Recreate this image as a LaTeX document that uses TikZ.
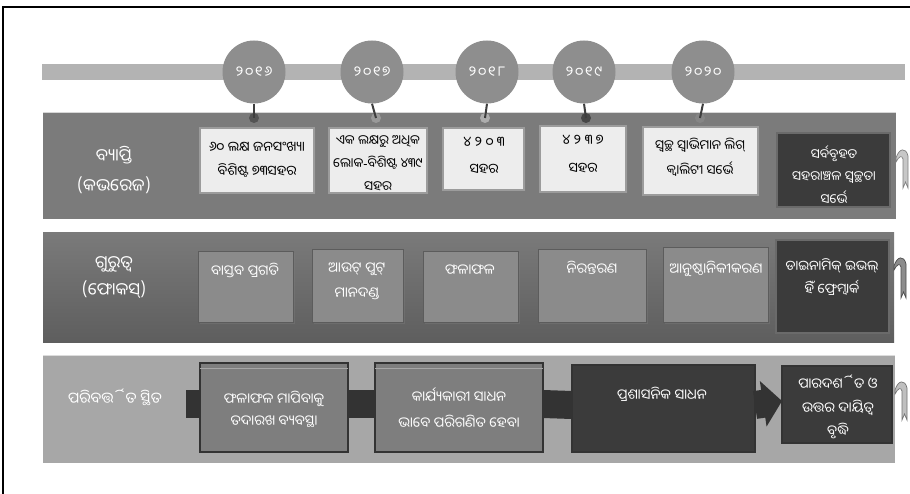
\documentclass[tikz,border=0pt]{standalone}
\usepackage{fontspec}
\newfontfamily\odia[Script=Oriya]{Noto Sans Oriya UI}
\newfontfamily\lat{Noto Sans}
\usetikzlibrary{arrows.meta,shadows}
\definecolor{barc}{HTML}{B3B3B3}
\definecolor{yearg}{HTML}{8E8E8E}
\definecolor{stemc}{HTML}{3E3E3E}
\definecolor{bandA}{HTML}{7B7B7B}
\definecolor{bandBt}{HTML}{7A7A7A}
\definecolor{bandBb}{HTML}{5E5E5E}
\definecolor{bandC}{HTML}{A7A7A7}
\definecolor{lightf}{HTML}{EDEDED}
\definecolor{lightd}{HTML}{9C9C9C}
\definecolor{darkf}{HTML}{3B3B3B}
\definecolor{darkd}{HTML}{6A6A6A}
\definecolor{midf}{HTML}{8B8B8B}
\definecolor{midd}{HTML}{5C5C5C}
\definecolor{rowthreef}{HTML}{7E7E7E}
\definecolor{connc}{HTML}{333333}
\tikzset{
  yearc/.style={circle, fill=yearg, minimum size=63pt, inner sep=0pt, text=white,
    font=\odia\fontsize{14}{16}\selectfont\addfontfeature{LetterSpace=12}},
  stem/.style={draw=stemc, line width=2pt},
  dotn/.style={circle, minimum size=10pt, inner sep=0pt},
  shape0/.style={rectangle, inner sep=0pt, outer sep=0pt, anchor=north west},
  bandone/.style={shape0, fill=bandA},
  bandtwo/.style={shape0, top color=bandBt, bottom color=bandBb},
  bandthree/.style={shape0, fill=bandC},
  lbox/.style={shape0, fill=lightf, draw=lightd, line width=1.2pt,
    drop shadow={shadow xshift=1.5pt, shadow yshift=-1.5pt, opacity=.45}},
  dbox/.style={shape0, fill=darkf, draw=darkd, line width=1.5pt},
  mbox/.style={shape0, fill=midf, draw=midd, line width=1pt,
    drop shadow={shadow xshift=1.5pt, shadow yshift=-1.5pt, opacity=.35}},
  tbox/.style={shape0, fill=rowthreef, draw=connc, line width=2.2pt},
  tdbox/.style={shape0, fill=darkf, draw=connc, line width=1.2pt},
  lab/.style={align=center, text=white, font=\odia\fontsize{17}{30}\selectfont},
  labb/.style={align=center, text=white, font=\odia\fontsize{17}{27}\selectfont},
  btxt/.style={align=center, text=black, font=\odia\fontsize{13.5}{24}\selectfont},
  wtxt/.style={align=center, text=white, font=\odia\fontsize{14}{24}\selectfont},
  conn/.style={draw=connc, line width=28pt},
}
\newcommand\bx[6]{\node[#6, minimum width={#4-#2}, minimum height={#5-#3}] (#1) at (#2,#3) {};}
\newcommand\ribbon[5]{\filldraw[fill=#4, draw=#5, line width=0.7pt]
  (#1,{#2+8}) .. controls ({#1+3},{#2-2}) and ({#1+10},{#2-3}) .. ({#1+12},{#2+6})
  -- ({#1+12},#3) -- ({#1+9.5},{#3-6}) -- ({#1+7},#3) -- ({#1+7},{#2+9})
  .. controls ({#1+6},{#2+5}) and ({#1+3},{#2+6}) .. (#1,{#2+12}) -- cycle;}
\begin{document}
\begin{tikzpicture}[x=1pt,y=-1pt]
\useasboundingbox (0,0) rectangle (910,494);
\fill[white] (0,0) rectangle (910,494);
% frame
\draw[line width=2.5pt] (3,494) -- (3,7) -- (910,7);
% timeline bar
\fill[barc] (42,64) rectangle (905,80);
% bands
\bx{band1}{43}{112}{896}{219}{bandone}
\bx{band2}{43}{233}{894}{342}{bandtwo}
\bx{band3}{43}{355}{895}{463}{bandthree}
\draw[white!70!bandA, line width=0.8pt] (band1.north west) -- (band1.north east);
\draw[white!60!bandC, line width=0.8pt] (band3.north west) -- (band3.north east);
% ribbons
\ribbon{896}{150}{188}{white!78!black}{white!50!black}
\ribbon{894}{258}{298}{white!55!black}{white!30!black}
\ribbon{895}{382}{420}{white!75!black}{white!45!black}
% dots
\node[dotn, fill=white!33!black] (d16) at (254,118) {};
\node[dotn, fill=white!60!black] (d17) at (376,118) {};
\node[dotn, fill=white!68!black] (d18) at (485,118) {};
\node[dotn, fill=white!28!black] (d19) at (586,118) {};
\node[dotn, fill=white!52!black] (d20) at (700,118) {};
% year circles
\node[yearc] (y16) at (254,72) {୨୦୧୬};
\node[yearc] (y17) at (372,72) {୨୦୧୭};
\node[yearc] (y18) at (487,72) {୨୦୧୮};
\node[yearc] (y19) at (584,72) {୨୦୧୯};
\node[yearc] (y20) at (703,72) {୨୦୨୦};
\draw[stem] (y16.south) -- (d16.center);
\draw[stem] (y17.south) -- (d17.center);
\draw[stem] (y18.south) -- (d18.center);
\draw[stem] (y19.south) -- (d19.center);
\draw[stem] (y20.south) -- (d20.center);
% row 1
\node[lab] (l1) at (114,170) {ବ୍ୟାପ୍ତି\\(କଭରେଜ)};
\bx{b11}{200}{128}{314}{193}{lbox}
\bx{b12}{329}{128}{427}{193}{lbox}
\bx{b13}{443}{128}{524}{190}{lbox}
\bx{b14}{540}{126}{626}{192}{lbox}
\bx{b15}{643}{127}{758}{195}{lbox}
\bx{b16}{777}{133}{890}{207}{dbox}
\node[btxt] (t11) at (257,160) {୬୦ ଲକ୍ଷ ଜନସଂଖ୍ୟା\\ବିଶିଷ୍ଟ ୭୩ସହର};
\node[btxt, font=\odia\fontsize{13}{23}\selectfont] (t12) at (378,164) {ଏକ ଲକ୍ଷରୁ ଅଧିକ\\ଲୋକ{\lat -}ବିଶିଷ୍ଟ ୪୩୯\\ସହର};
\node[btxt, font=\odia\fontsize{13.5}{27}\selectfont] (t13) at (484,156) {୪ ୨ ୦ ୩\\ସହର};
\node[btxt, font=\odia\fontsize{13.5}{28}\selectfont] (t14) at (583,154) {୪ ୨ ୩ ୭\\ସହର};
\node[btxt, font=\odia\fontsize{13}{25}\selectfont] (t15) at (700,157) {ସ୍ୱଚ୍ଛ ସ୍ୱାଭିମାନ ଲିଗ୍\\କ୍ୱାଲିଟୀ ସର୍ଭେ};
\node[wtxt, font=\odia\fontsize{13}{22.5}\selectfont] (t16) at (834,175) {ସର୍ବବୃହତ\\ସହରାଞ୍ଚଳ ସ୍ୱଚ୍ଛତା\\ସର୍ଭେ};
% row 2
\node[labb] (l2) at (114,278) {ଗୁରୁତ୍ୱ\\(ଫୋକସ୍)};
\bx{b21}{198}{252}{293}{322}{mbox}
\bx{b22}{312}{250}{403}{322}{mbox}
\bx{b23}{423}{252}{518}{322}{mbox}
\bx{b24}{538}{250}{646}{322}{mbox}
\bx{b25}{663}{248}{768}{322}{mbox}
\bx{b26}{776}{240}{889}{333}{dbox}
\node[wtxt] (t21) at (245,270) {ବାସ୍ତବ ପ୍ରଗତି};
\node[wtxt, font=\odia\fontsize{14}{25}\selectfont] (t22) at (357,281) {ଆଉଟ୍ ପୁଟ୍\\ମାନଦଣ୍ଡ};
\node[wtxt] (t23) at (470,270) {ଫଳାଫଳ};
\node[wtxt] (t24) at (592,268) {ନିରନ୍ତରଣ};
\node[wtxt] (t25) at (716,269) {ଆନୁଷ୍ଠାନିକୀକରଣ};
\node[wtxt, font=\odia\fontsize{13.5}{23}\selectfont] (t26) at (832,277) {ଡାଇନାମିକ୍ ଇଭଲ୍\\ହି^^^^200cଁ ଫ୍ରେମ୍ୱାର୍କ};
% row 3
\node[lab, font=\odia\fontsize{15}{18}\selectfont] (l3) at (115,397) {ପରିବର୍ତ୍ତିତ ସ୍ଥିତ};
\bx{b31}{200}{363}{348}{452}{tbox}
\bx{b32}{375}{363}{543}{452}{tbox}
\bx{b33}{572}{365}{755}{452}{tdbox}
\bx{b34}{782}{366}{892}{443}{tdbox}
\draw[white!65!black, line width=0.8pt] ([yshift=-5pt]b31.north west) -- ([yshift=-5pt]b31.north east);
\draw[white!65!black, line width=0.8pt] ([yshift=-5pt]b32.north west) -- ([yshift=-5pt]b32.north east);
\coordinate (s0) at (186,404);
\draw[conn] (s0) -- ([yshift=3.5pt]b31.west);
\draw[conn] ([yshift=3.5pt]b31.east) -- ([yshift=3.5pt]b32.west);
\draw[conn] ([yshift=3.5pt]b32.east) -- ([yshift=3.5pt]b33.west);
\draw[conn, -{Triangle[length=19pt, width=45pt]}] ([yshift=3.5pt]b33.east) -- ([yshift=3.5pt]b34.west);
\node[wtxt, font=\odia\fontsize{14}{22}\selectfont] (t31) at (274,409) {ଫଳାଫଳ ମାପିବାକୁ\\ତଦାରଖ ବ୍ୟବସ୍ଥା};
\node[wtxt, font=\odia\fontsize{14}{26}\selectfont] (t32) at (459,408) {କାର୍ଯ୍ୟକାରୀ ସାଧନ\\ଭାବେ ପରିଗଣିତ ହେବା};
\node[wtxt] (t33) at (662,394) {ପ୍ରଶାସନିକ ସାଧନ};
\node[wtxt, font=\odia\fontsize{14}{23.5}\selectfont] (t34) at (838,407) {ପାରଦର୍ଶିତ ଓ\\ଉତ୍ତର ଦାୟିତ୍ୱ\\ବୃଦ୍ଧି};
\end{tikzpicture}
\end{document}
